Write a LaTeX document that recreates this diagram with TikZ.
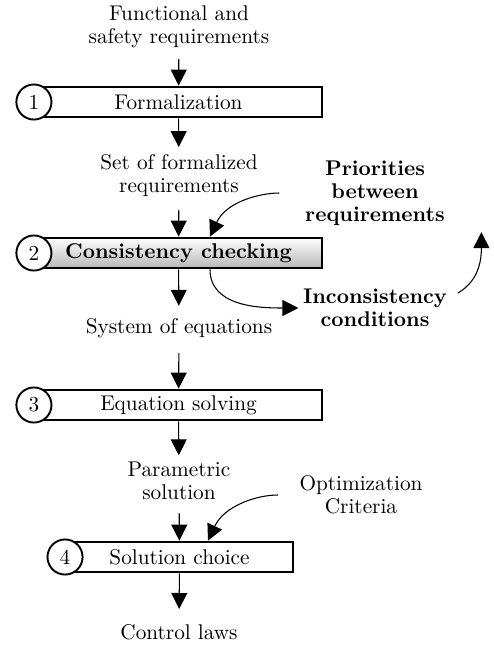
\documentclass[tikz,border=0pt]{standalone}
\usetikzlibrary{arrows.meta}
\tikzset{
  stepbox/.style={draw, line width=0.9pt, minimum height=14.5pt, inner sep=2pt, fill=white},
  stepnum/.style={circle, draw, line width=0.9pt, fill=white, minimum size=16.5pt, inner sep=0pt},
  steptext/.style={align=center, font=\fontsize{10}{10.8}\selectfont, inner sep=2pt},
  steparrow/.style={-{Triangle[length=7.5pt,width=7.5pt]}, line width=0.5pt},
}

\begin{document}
\begin{tikzpicture}[x=0.47pt, y=0.47pt]
  \useasboundingbox (0,0) rectangle (494,-646);
  % main flow
  \node[steptext] (req) at (179,-27) {Functional and\\safety requirements};
  \node[stepbox, minimum width=135pt] (formal) at (178.5,-102) {Formalization};
  \node[steptext] (setreq) at (179,-176) {Set of formalized\\requirements};
  \node[stepbox, minimum width=135pt, top color=white, bottom color=black!28, draw=black] (check) at (178.5,-253) {\bfseries Consistency checking};
  \node[steptext] (sys) at (179,-328) {System of equations};
  \node[stepbox, minimum width=135pt] (solve) at (178.5,-405) {Equation solving};
  \node[steptext] (param) at (179,-481) {Parametric\\solution};
  \node[stepbox, minimum width=106.7pt] (choice) at (179.5,-557) {Solution choice};
  \node[steptext] (laws) at (179,-632) {Control laws};
  % step numbers
  \node[stepnum] at (formal.west) {1};
  \node[stepnum] at (check.west) {2};
  \node[stepnum] at (solve.west) {3};
  \node[stepnum] at (choice.west) {4};
  % side inputs and outputs
  \node[steptext, font=\fontsize{10}{10.8}\selectfont\bfseries] (prio) at (375,-193) {Priorities\\between\\requirements};
  \node[steptext, font=\fontsize{10}{10.8}\selectfont\bfseries] (incons) at (375,-308) {Inconsistency\\conditions};
  \node[steptext] (optim) at (361,-495) {Optimization\\Criteria};

  \draw[steparrow, shorten <=3pt] (req) -- (formal);
  \draw[steparrow, shorten >=1.5pt] (formal) -- (setreq);
  \draw[steparrow, shorten <=4pt] (setreq) -- (check);
  \draw[steparrow, shorten >=3.7pt] (check) -- (sys);
  \draw[steparrow, shorten <=5pt] (sys) -- (solve);
  \draw[steparrow, shorten >=1pt] (solve) -- (param);
  \draw[steparrow, shorten <=4pt] (param) -- (choice);
  \draw[steparrow, shorten >=5pt] (choice) -- (laws);

  \draw[steparrow, shorten <=10pt] (prio.west) to[out=180, in=65] ([xshift=14.8pt]check.north);
  \draw[steparrow] ([xshift=14.8pt]check.south) to[out=-90, in=180] (incons.west);
  \draw[steparrow] ([xshift=3pt,yshift=-4pt]incons.north east) to[out=30, in=-90] ([xshift=15pt,yshift=-1pt]prio.south east);
  \draw[steparrow, shorten <=8pt] (optim.west) to[out=180, in=65] ([xshift=13.4pt]choice.north);
\end{tikzpicture}
\end{document}
